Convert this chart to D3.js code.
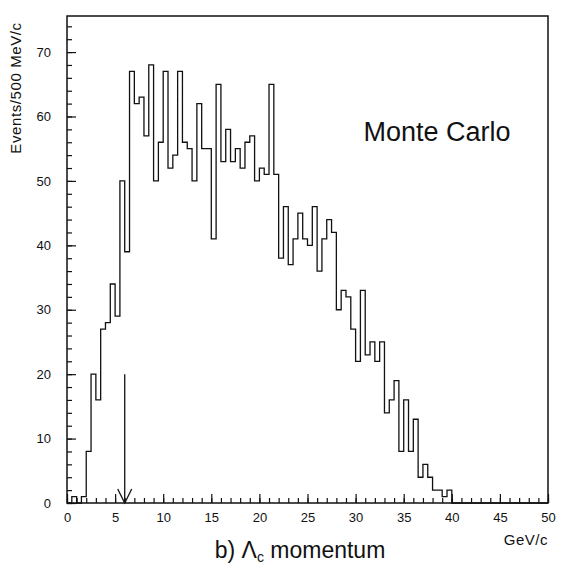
<!DOCTYPE html>
<html>
<head>
<meta charset="utf-8">
<script src="https://cdn.jsdelivr.net/npm/d3@7"></script>
<style>
  body { margin: 0; background: #fff; }
  svg text { font-family: "Liberation Sans", Arial, sans-serif; fill: #111; }
</style>
</head>
<body>
<svg id="chart" width="564" height="566"></svg>
<script>
// histogram bins, 0.5 GeV/c wide, from 0 to 50 GeV/c
var binLow = d3.range(0, 50, 0.5);
var counts = [
  0, 1, 0, 1, 8, 20, 16, 27, 28, 34,
  29, 50, 39, 67, 62, 63, 57, 68, 50, 56,
  67, 52, 54, 67, 56, 55, 50, 62, 55, 55,
  41, 65, 53, 58, 53, 55, 52, 56, 57, 50,
  52, 51, 65, 51, 38, 46, 37, 41, 45, 41,
  40, 46, 36, 41, 44, 42, 30, 33, 32, 27,
  22, 33, 23, 25, 22, 25, 14, 16, 19, 8,
  16, 8, 13, 4, 6, 4, 2, 2, 1, 2,
  0, 0, 0, 0, 0, 0, 0, 0, 0, 0,
  0, 0, 0, 0, 0, 0, 0, 0, 0, 0
];
var binWidth = 0.5;
var xMajor = [0, 5, 10, 15, 20, 25, 30, 35, 40, 45, 50];
var xMinor = d3.range(0, 51, 1);
var yMajor = [0, 10, 20, 30, 40, 50, 60, 70];
var yMinor = d3.range(0, 76, 2);
var cutValue = 6;      // arrow position, GeV/c
var cutArrowTop = 20;  // arrow top, in events

var svg = d3.select("#chart");
var plotLeft = 67, plotRight = 548, plotTop = 16, plotBottom = 503;

var x = d3.scaleLinear().domain([0, 50]).range([plotLeft, plotRight]);
var y = d3.scaleLinear().domain([0, 75.6]).range([plotBottom, plotTop]);

// minor ticks
svg.append("g")
  .attr("transform", "translate(" + plotLeft + ",0)")
  .call(d3.axisLeft(y).tickValues(yMinor).tickSize(-5).tickFormat(""))
  .call(g => g.select(".domain").remove());
svg.append("g")
  .attr("transform", "translate(0," + plotBottom + ")")
  .call(d3.axisBottom(x).tickValues(xMinor).tickSize(-5).tickFormat(""))
  .call(g => g.select(".domain").remove());

// major ticks with labels
var yAxis = svg.append("g")
  .attr("transform", "translate(" + plotLeft + ",0)")
  .call(d3.axisLeft(y).tickValues(yMajor).tickSize(-9).tickPadding(16));
yAxis.select(".domain").remove();
yAxis.selectAll("text").style("font-size", "13px");

var xAxis = svg.append("g")
  .attr("transform", "translate(0," + plotBottom + ")")
  .call(d3.axisBottom(x).tickValues(xMajor).tickSize(-9).tickPadding(10));
xAxis.select(".domain").remove();
xAxis.selectAll("text").style("font-size", "13px");

svg.selectAll(".tick line").attr("stroke", "#111").attr("stroke-width", 1.2);

// frame
svg.append("rect")
  .attr("x", plotLeft).attr("y", plotTop)
  .attr("width", plotRight - plotLeft).attr("height", plotBottom - plotTop)
  .attr("fill", "none").attr("stroke", "#111").attr("stroke-width", 1.5);

// histogram outline
var pts = [[0, 0]];
binLow.forEach(function(lo, i) {
  pts.push([lo, counts[i]]);
  pts.push([lo + binWidth, counts[i]]);
});
pts.push([50, 0]);

var line = d3.line()
  .x(function(d) { return x(d[0]); })
  .y(function(d) { return y(d[1]); });

svg.append("path")
  .attr("d", line(pts))
  .attr("fill", "none")
  .attr("stroke", "#111")
  .attr("stroke-width", 1.3);

// cut arrow
svg.append("line")
  .attr("x1", x(cutValue)).attr("x2", x(cutValue))
  .attr("y1", y(cutArrowTop)).attr("y2", y(0))
  .attr("stroke", "#111").attr("stroke-width", 1.3);
svg.append("path")
  .attr("d", "M" + (x(cutValue) - 7) + "," + (y(0) - 14) +
             "L" + x(cutValue) + "," + y(0) +
             "L" + (x(cutValue) + 7) + "," + (y(0) - 14))
  .attr("fill", "none").attr("stroke", "#111").attr("stroke-width", 1.3);

// labels
svg.append("text")
  .attr("transform", "translate(21,88) rotate(-90)")
  .style("text-anchor", "middle")
  .style("font-size", "15px")
  .style("letter-spacing", "0.6px")
  .text("Events/500 MeV/c");

svg.append("text")
  .attr("x", plotRight).attr("y", 545)
  .style("text-anchor", "end")
  .style("font-size", "15px")
  .style("letter-spacing", "0.5px")
  .text("GeV/c");

svg.append("text")
  .attr("x", 437).attr("y", 141)
  .style("text-anchor", "middle")
  .style("font-size", "27px")
  .text("Monte Carlo");

var title = svg.append("text")
  .attr("x", 300).attr("y", 558)
  .style("text-anchor", "middle")
  .style("font-size", "23px");
title.append("tspan").text("b) \u039b");
title.append("tspan").attr("dy", 4).style("font-size", "14px").text("c");
title.append("tspan").attr("dy", -4).text(" momentum");
</script>
</body>
</html>
